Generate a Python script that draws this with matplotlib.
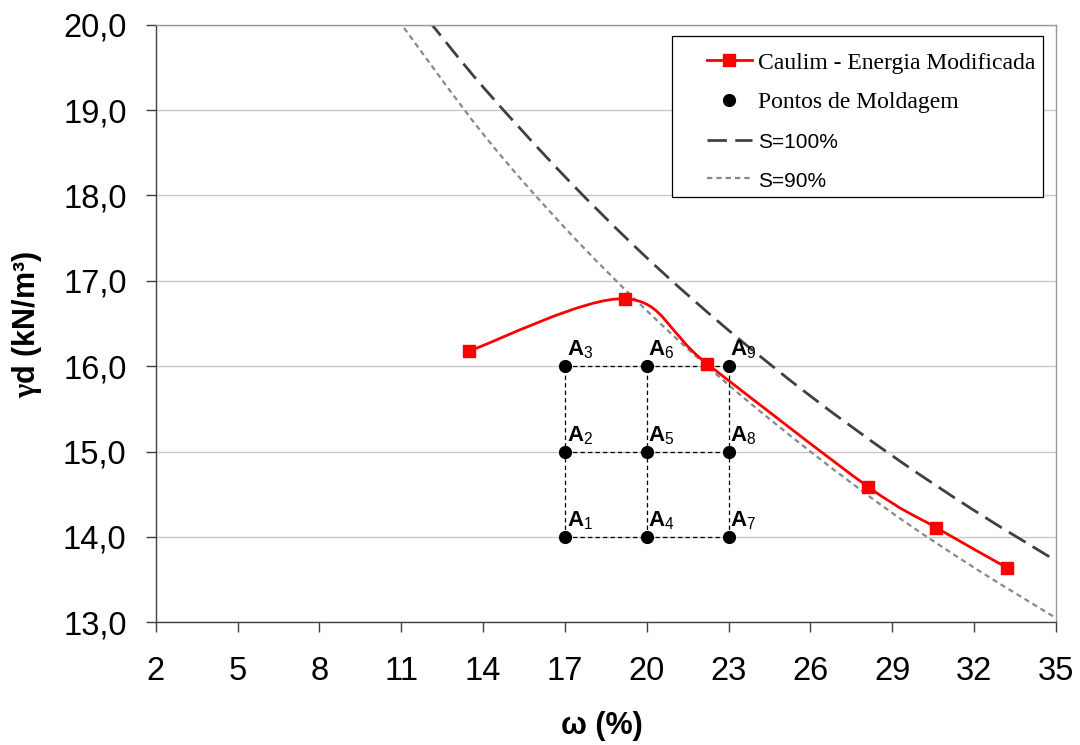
import matplotlib as mpl
import matplotlib.pyplot as plt
import numpy as np
from matplotlib.lines import Line2D
from matplotlib.patches import PathPatch, Rectangle
from matplotlib.path import Path
from matplotlib.ticker import FuncFormatter, MultipleLocator

mpl.use("Agg")

plt.rcParams["font.family"] = ["Liberation Sans", "DejaVu Sans"]
plt.rcParams["mathtext.fontset"] = "custom"
plt.rcParams["mathtext.rm"] = "Liberation Sans"
plt.rcParams["mathtext.bf"] = "Liberation Sans:bold"
plt.rcParams["mathtext.it"] = "Liberation Sans:italic"
plt.rcParams["mathtext.sf"] = "Liberation Serif:bold"

# Compaction curve (modified energy)
umidade_caulim = [13.5, 19.2, 22.2, 28.1, 30.6, 33.2]
gamma_caulim = [16.18, 16.79, 16.03, 14.59, 14.11, 13.64]

# Saturation curves
umidade_s100 = [12.0, 14.0, 17.0, 20.0, 23.0, 26.0, 29.0, 32.0, 35.0]
gamma_s100 = [20.05, 19.27, 18.22, 17.27, 16.42, 15.65, 14.95, 14.31, 13.72]
umidade_s90 = [10.9, 14.0, 17.0, 20.0, 23.0, 26.0, 29.0, 32.0, 35.0]
gamma_s90 = [20.05, 18.72, 17.62, 16.65, 15.78, 15.00, 14.28, 13.64, 13.05]

# Moulding points grid
umidade_molde = [17, 20, 23]
gamma_molde = [14.0, 15.0, 16.0]

x_ticks = [2, 5, 8, 11, 14, 17, 20, 23, 26, 29, 32, 35]

colors = {
    "caulim": "#FF0000",
    "s100": "#404040",
    "s90": "#888888",
    "grid": "#C8C8C8",
    "axis": "#404040",
}


def smooth_path(xs, ys):
    """Bezier path through the points (Catmull-Rom style smoothing)."""
    pts = np.column_stack([xs, ys]).astype(float)
    n = len(pts)
    verts = [pts[0]]
    codes = [Path.MOVETO]
    for i in range(n - 1):
        p0 = pts[max(i - 1, 0)]
        p1 = pts[i]
        p2 = pts[i + 1]
        p3 = pts[min(i + 2, n - 1)]
        verts += [p1 + (p2 - p0) / 6, p2 - (p3 - p1) / 6, p2]
        codes += [Path.CURVE4] * 3
    return Path(verts, codes)


fig = plt.figure(figsize=(10.8, 7.45), dpi=100)
ax = fig.add_axes([0.1442, 0.1647, 0.8336, 0.8021])

ax.set_xlim(2, 35)
ax.set_ylim(13, 20)
ax.xaxis.set_major_locator(plt.FixedLocator(x_ticks))
ax.yaxis.set_major_locator(MultipleLocator(1))
ax.yaxis.set_major_formatter(FuncFormatter(lambda v, _: f"{v:.1f}".replace(".", ",")))
ax.xaxis.set_major_formatter(FuncFormatter(lambda v, _: f"{v:.0f}"))

ax.grid(axis="y", color=colors["grid"], linewidth=1.0)
ax.set_axisbelow(True)
for side in ("left", "bottom"):
    ax.spines[side].set_color(colors["axis"])
    ax.spines[side].set_linewidth(1.0)
for side in ("top", "right"):
    ax.spines[side].set_color("#999999")
    ax.spines[side].set_linewidth(1.0)

ax.tick_params(axis="both", direction="out", length=7, width=1.0,
               color=colors["axis"], labelsize=23.5)
ax.tick_params(axis="y", pad=14)
ax.tick_params(axis="x", pad=17)

# Saturation curves
s100_style = dict(color=colors["s100"], lw=2.0, ls=(0, (7.0, 3.0)))
s90_style = dict(color=colors["s90"], lw=1.6, ls=(0, (2.4, 1.8)))
for xs, ys, st in ((umidade_s100, gamma_s100, s100_style),
                   (umidade_s90, gamma_s90, s90_style)):
    ax.add_patch(PathPatch(smooth_path(xs, ys), fill=False, edgecolor=st["color"],
                           lw=st["lw"], ls=st["ls"], capstyle="butt", zorder=2))

# Moulding grid
ax.hlines(gamma_molde, min(umidade_molde), max(umidade_molde), colors="black",
          lw=0.9, ls=(0, (3.5, 2.5)), zorder=3)
ax.vlines(umidade_molde, min(gamma_molde), max(gamma_molde), colors="black",
          lw=0.9, ls=(0, (3.5, 2.5)), zorder=3)
mx, my = np.meshgrid(umidade_molde, gamma_molde, indexing="ij")
ax.plot(mx.ravel(), my.ravel(), ls="none", marker="o", ms=8.5,
        color="black", zorder=4)
for k, (xv, yv) in enumerate(zip(mx.ravel(), my.ravel()), start=1):
    ax.annotate(rf"$\mathbf{{A}}_{{\mathrm{{{k}}}}}$", (xv, yv),
                xytext=(1.2, 7.5), textcoords="offset points",
                ha="left", va="baseline", fontsize=16, zorder=4)

# Compaction curve
ax.add_patch(PathPatch(smooth_path(umidade_caulim, gamma_caulim), fill=False,
                       edgecolor=colors["caulim"], lw=2.0, zorder=5))
ax.plot(umidade_caulim, gamma_caulim, ls="none", marker="s", ms=8,
        color=colors["caulim"], zorder=6)

# Legend
handles = [
    Line2D([], [], color=colors["caulim"], lw=2.0, marker="s", ms=8),
    Line2D([], [], ls="none", marker="o", ms=8.5, color="black"),
    Line2D([], [], dash_capstyle="butt", **s100_style),
    Line2D([], [], dash_capstyle="butt", **s90_style),
]
labels = ["Caulim - Energia Modificada", "Pontos de Moldagem", "S=100%", "S=90%"]
W, H = 1080, 745
ax.add_patch(Rectangle((672 / W, 1 - 197 / H), (1043 - 672) / W, (197 - 36) / H,
                       transform=fig.transFigure, facecolor="white",
                       edgecolor="black", lw=0.9, clip_on=False, zorder=7))
leg = ax.legend(handles, labels, loc="upper left",
                bbox_to_anchor=(707 / W, 1 - 52 / H), bbox_transform=fig.transFigure,
                frameon=False, borderpad=0, borderaxespad=0, numpoints=1,
                handlelength=1.9, handletextpad=0.25, labelspacing=0.77,
                prop={"family": "Liberation Serif", "size": 17})
leg.set_zorder(8)
for txt in leg.get_texts()[2:]:
    txt.set_fontfamily("Liberation Sans")
    txt.set_fontsize(15)

fig.text(27 / W, 1 - 324 / H, r"$\mathsf{γ}$d (kN/m³)", rotation=90,
         ha="center", va="center", fontsize=22, fontweight="bold")
fig.text(602 / W, 1 - 726 / H, "ω (%)", ha="center", va="center",
         fontsize=22, fontweight="bold")

fig.savefig("out.png", dpi=100)
plt.close(fig)
